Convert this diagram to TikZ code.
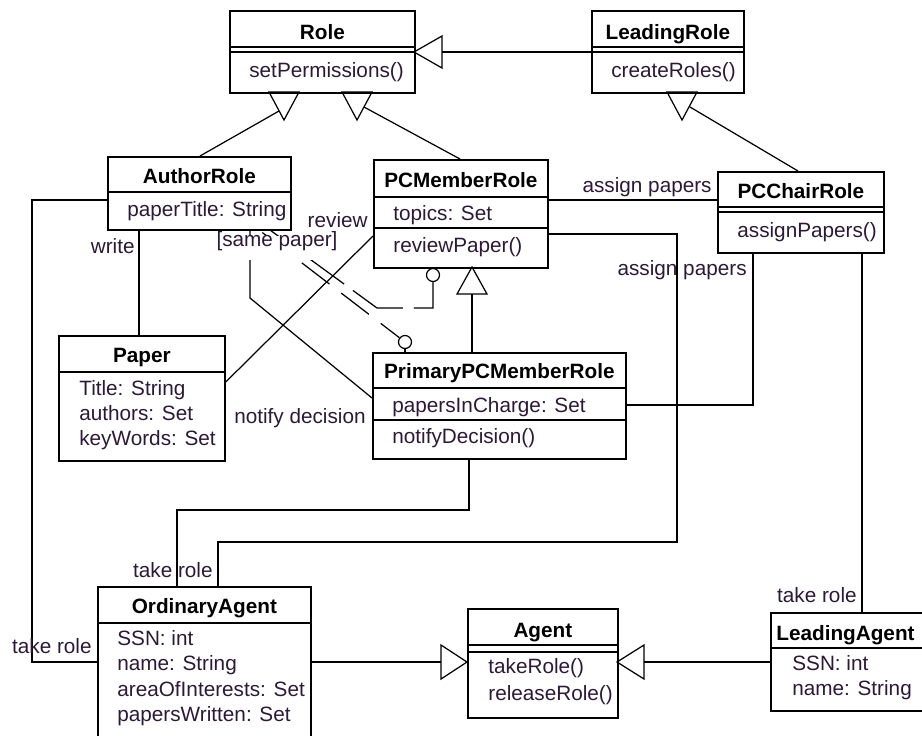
\documentclass[tikz,border=0pt]{standalone}
\usepackage{fontspec}
\setmainfont{Liberation Sans}
\definecolor{txt}{RGB}{45,25,55}
\tikzset{
	cls/.style={draw, line width=1pt, inner sep=0pt, anchor=north west},
	cname/.style={font=\fontsize{11.8}{14.2}\selectfont\bfseries, anchor=base, inner sep=0pt},
	memb/.style={anchor=base west, inner sep=0pt, text=txt},
	lbl/.style={anchor=base east, inner sep=0pt, text=txt},
	assoc/.style={line width=0.7pt},
	gen/.style={line width=0.7pt},
	dep/.style={line width=0.7pt},
	lolli/.style={draw, line width=0.7pt, circle, minimum size=13*0.02cm, inner sep=0pt},
}
\begin{document}
\begin{tikzpicture}[x=0.02cm,y=-0.02cm,font=\fontsize{11.8}{14.2}\selectfont]
\useasboundingbox (0,0) rectangle (922,735);
% class boxes
\node[cls, minimum width=185*0.02cm, minimum height=82*0.02cm] (Role) at (229,10) {};
\node[cls, minimum width=152*0.02cm, minimum height=82*0.02cm] (LeadRole) at (591,10) {};
\node[cls, minimum width=183*0.02cm, minimum height=73*0.02cm] (AuthorRole) at (107,156) {};
\node[cls, minimum width=174*0.02cm, minimum height=108*0.02cm] (PCMember) at (373,159) {};
\node[cls, minimum width=166*0.02cm, minimum height=81*0.02cm] (PCChair) at (717,171) {};
\node[cls, minimum width=166*0.02cm, minimum height=125*0.02cm] (Paper) at (58,335) {};
\node[cls, minimum width=253*0.02cm, minimum height=106*0.02cm] (Primary) at (372,352) {};
\node[cls, minimum width=213*0.02cm, minimum height=160*0.02cm] (Ordinary) at (97,586) {};
\node[cls, minimum width=150*0.02cm, minimum height=109*0.02cm] (Agent) at (467,608) {};
\node[cls, minimum width=170*0.02cm, minimum height=98*0.02cm] (LeadAgent) at (770,612) {};
% compartments
\foreach \b/\y in {Role/47,Role/52,LeadRole/47,LeadRole/52,AuthorRole/192,PCMember/197,PCMember/228,
		PCChair/207,PCChair/212,Paper/372,Primary/388,Primary/420,Ordinary/623,Agent/645,Agent/652,LeadAgent/648}
	\draw[line width=1pt] (\b.west |- 0,\y) -- (\b.east |- 0,\y);
% names
\node[cname] (Role-n) at (Role.north |- 0,39) {Role};
\node[cname] (LeadRole-n) at (LeadRole.north |- 0,39) {LeadingRole};
\node[cname] (AuthorRole-n) at (AuthorRole.north |- 0,183) {AuthorRole};
\node[cname] (PCMember-n) at (PCMember.north |- 0,187) {PCMemberRole};
\node[cname] (PCChair-n) at (PCChair.north |- 0,198) {PCChairRole};
\node[cname] (Paper-n) at (Paper.north |- 0,362) {Paper};
\node[cname] (Primary-n) at (Primary.north |- 0,378) {PrimaryPCMemberRole};
\node[cname] (Ordinary-n) at (Ordinary.north |- 0,613) {OrdinaryAgent};
\node[cname] (Agent-n) at (Agent.north |- 0,637) {Agent};
\node[cname, anchor=base west] (LeadAgent-n) at (776,640) {LeadingAgent};
% members
\node[memb] (Role-m) at (249,77) {setPermissions()};
\node[memb] (LeadRole-m) at (611,77) {createRoles()};
\node[memb] (AuthorRole-a) at (127,216) {paperTitle: String};
\node[memb] (PCMember-a) at (393,220) {topics: Set};
\node[memb] (PCMember-m) at (393,252) {reviewPaper()};
\node[memb] (PCChair-m) at (737,237) {assignPapers()};
\foreach \t [count=\i] in {Title: String,authors: Set,keyWords: Set}
	\node[memb] (Paper-a\i) at (79,370+25*\i) {\t};
\node[memb] (Primary-a) at (392,412) {papersInCharge: Set};
\node[memb] (Primary-m) at (392,443) {notifyDecision()};
\foreach \t [count=\i] in {SSN: int,name: String,areaOfInterests: Set,papersWritten: Set}
	\node[memb] (Ordinary-a\i) at (117,619.5+25.5*\i) {\t};
\foreach \t [count=\i] in {takeRole(),releaseRole()}
	\node[memb] (Agent-m\i) at (488,646+27*\i) {\t};
\foreach \t [count=\i] in {SSN: int,name: String}
	\node[memb] (LeadAgent-a\i) at (792,645+25*\i) {\t};
% generalisations
\coordinate (g1) at (414,52);  \coordinate (g1b) at (442,52);
\coordinate (g2) at (284,120); \coordinate (g2e) at (279,111);
\coordinate (g3) at (357,120); \coordinate (g3e) at (364,107);
\coordinate (g4) at (682,120); \coordinate (g4e) at (690,107);
\coordinate (g5) at (472,267); \coordinate (g5b) at (472,294);
\coordinate (g6) at (467,662); \coordinate (g6b) at (441,662);
\coordinate (g7) at (617,662); \coordinate (g7b) at (644,662);
\draw[gen] (g1) -- ++(28,-16) -- ++(0,32) -- cycle;
\draw[gen] (g2) -- ++(-15,-28) -- ++(30,0) -- cycle;
\draw[gen] (g3) -- ++(-15,-28) -- ++(30,0) -- cycle;
\draw[gen] (g4) -- ++(-15,-28) -- ++(30,0) -- cycle;
\draw[gen] (g5) -- ++(-15,27) -- ++(30,0) -- cycle;
\draw[gen] (g6) -- ++(-26,-17) -- ++(0,34) -- cycle;
\draw[gen] (g7) -- ++(27,-17) -- ++(0,34) -- cycle;
\draw[gen] (LeadRole.west |- g1b) -- (g1b);
\draw[gen] (AuthorRole.north -| 200,0) -- (g2e);
\draw[gen] (PCMember.north -| 460,0) -- (g3e);
\draw[gen] (PCChair.north -| 798,0) -- (g4e);
\draw[gen] (Primary.north -| g5b) -- (g5b);
\draw[gen] (Ordinary.east |- g6b) -- (g6b);
\draw[gen] (LeadAgent.west |- g7b) -- (g7b);
% associations
\draw[assoc] (AuthorRole.south -| 139,0) -- (Paper.north -| 139,0);
\draw[assoc] (AuthorRole.west |- 0,200) -| (32,662) -- (Ordinary.west |- 0,662);
\draw[assoc] (Paper.east |- 0,382) -- (PCMember.west |- 0,236);
\draw[assoc] (AuthorRole.south -| 250,0) -- (250,298) -- (Primary.west |- 0,398);
\draw[assoc] (PCMember.east |- 0,200) -- (PCChair.west |- 0,200);
\draw[assoc] (PCMember.east |- 0,234) -| (677,542) -| (Ordinary.north -| 218,0);
\draw[assoc] (Primary.south -| 469,0) |- (177,510) -- (Ordinary.north -| 177,0);
\draw[assoc] (PCChair.south -| 753,0) |- (Primary.east |- 0,405);
\draw[assoc] (PCChair.south -| 862,0) -- (LeadAgent.north -| 862,0);
% dependencies
\node[lolli] (pcm-c) at (433,275) {};
\node[lolli] (prim-c) at (405,342) {};
\draw[assoc] (PCMember.south -| pcm-c) -- (pcm-c.north);
\draw[assoc] (prim-c.south) -- (Primary.north -| prim-c);
\draw[dep, dash pattern=on 31.7pt off 6.2pt, dash phase=18.1pt]
	(AuthorRole.south -| 271,0) -- (377,308) -- (433,308) -- (pcm-c.south);
\draw[dep, dash pattern=on 19.8pt off 8.5pt, dash phase=26.6pt]
	(AuthorRole.south -| 260,0) -- (prim-c);
% labels
\node[lbl] (l-write) at (135,253) {write};
\node[lbl] (l-take1) at (92,653) {take role};
\node[lbl] (l-review) at (368,227) {review};
\node[lbl, anchor=base, fill=white, text height=5.7pt, text depth=8pt] (l-same) at (277,246) {[same paper]};
\node[lbl] (l-notify) at (366,423) {notify decision};
\node[lbl] (l-assign1) at (712,192) {assign papers};
\node[lbl] (l-assign2) at (747,275) {assign papers};
\node[lbl] (l-take2) at (213,577) {take role};
\node[lbl] (l-take3) at (857,602) {take role};
\end{tikzpicture}
\end{document}
